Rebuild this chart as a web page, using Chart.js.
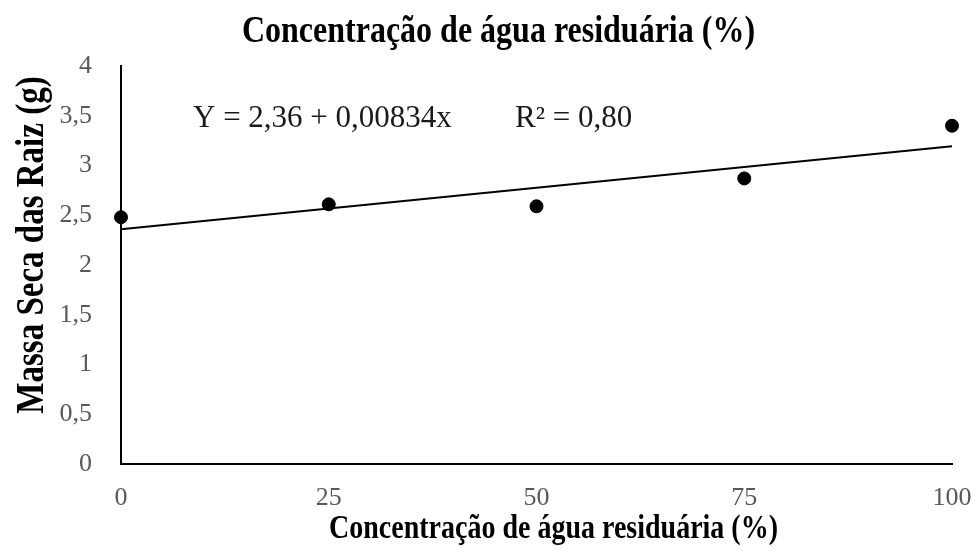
<!DOCTYPE html>
<html>
<head>
<meta charset="utf-8">
<script src="https://cdn.jsdelivr.net/npm/chart.js@4.4.1/dist/chart.umd.min.js"></script>
<style>
  html, body { margin: 0; padding: 0; background: #ffffff; }
  #wrap { width: 979px; height: 560px; position: relative; }
</style>
</head>
<body>
<div id="wrap"><canvas id="chart" width="979" height="560"></canvas></div>
<script>
// Concentration of wastewater (%) and root dry mass (g)
const concentrations = [0, 25, 50, 75, 100];
const rootDryMass = [2.48, 2.61, 2.59, 2.87, 3.40];

// Fitted regression: Y = 2,36 + 0,00834x
const intercept = 2.36;
const slope = 0.00834;
const fitX = [0, 100];

const xTickLabels = ['0', '25', '50', '75', '100'];
const yTickLabels = ['0', '0,5', '1', '1,5', '2', '2,5', '3', '3,5', '4'];

const titleText = 'Concentração de água residuária (%)';
const xTitleText = 'Concentração de água residuária (%)';
const yTitleText = 'Massa Seca das Raiz (g)';
const equationText = 'Y = 2,36 + 0,00834x';
const r2Text = 'R² = 0,80';

const serif = '"Liberation Serif", "Times New Roman", serif';

// Draws a line of text with a slight vertical stretch (tall heading style)
function tallText(ctx, text, x, y, font, angle, stretch) {
  ctx.save();
  ctx.font = font;
  ctx.fillStyle = '#000000';
  ctx.textAlign = 'center';
  ctx.textBaseline = 'alphabetic';
  ctx.translate(x, y);
  ctx.rotate(angle);
  ctx.scale(1, stretch);
  ctx.fillText(text, 0, 0);
  ctx.restore();
}

// Regression equation and R², written inside the plot area
const equationPlugin = {
  id: 'equationLabel',
  afterDatasetsDraw(chart) {
    const { ctx, chartArea } = chart;
    ctx.save();
    ctx.font = '31px ' + serif;
    ctx.fillStyle = '#1a1a1a';
    ctx.textBaseline = 'alphabetic';
    ctx.textAlign = 'left';
    const y = chartArea.top + 61;
    ctx.fillText(equationText, chartArea.left + 72, y);
    ctx.fillText(r2Text, chartArea.left + 394, y);
    ctx.restore();
  }
};

// Chart heading, horizontal axis title and vertical axis title
const headingsPlugin = {
  id: 'headings',
  afterDraw(chart) {
    const { ctx, chartArea } = chart;
    const midX = (chartArea.left + chartArea.right) / 2;
    const midY = (chartArea.top + chartArea.bottom) / 2;
    tallText(ctx, titleText, midX - 38, 42, 'bold 32px ' + serif, 0, 1.2);
    tallText(ctx, xTitleText, midX + 17, 538, 'bold 28px ' + serif, 0, 1.2);
    tallText(ctx, yTitleText, 43, midY - 20, 'bold 33px ' + serif, -Math.PI / 2, 1.2);
  }
};

new Chart(document.getElementById('chart'), {
  type: 'scatter',
  data: {
    datasets: [
      {
        label: 'Massa seca',
        data: concentrations.map((x, i) => ({ x: x, y: rootDryMass[i] })),
        backgroundColor: '#000000',
        borderColor: '#000000',
        pointRadius: 6.5,
        pointHoverRadius: 6.5,
        order: 1
      },
      {
        label: 'Regressão',
        type: 'line',
        data: fitX.map(x => ({ x: x, y: intercept + slope * x })),
        borderColor: '#000000',
        borderWidth: 2,
        pointRadius: 0,
        fill: false,
        order: 2
      }
    ]
  },
  options: {
    responsive: false,
    animation: false,
    clip: false,
    layout: { padding: { top: 66, left: 0, right: 27, bottom: 0 } },
    plugins: {
      legend: { display: false },
      tooltip: { enabled: false },
      title: { display: false }
    },
    scales: {
      x: {
        type: 'linear',
        min: 0,
        max: 100,
        afterFit(scale) {
          scale.height = 96;
          scale.paddingLeft = 0;
          scale.paddingRight = 0;
        },
        afterBuildTicks(scale) {
          scale.ticks = concentrations.map(v => ({ value: v }));
        },
        grid: { display: false, drawTicks: false },
        border: { display: true, color: '#000000', width: 2 },
        ticks: {
          padding: 19,
          color: '#595959',
          font: { family: serif, size: 26 },
          callback: (v, i) => xTickLabels[i]
        },
        title: { display: false }
      },
      y: {
        type: 'linear',
        min: 0,
        max: 4,
        afterFit(scale) {
          scale.width = 121;
          scale.paddingTop = 0;
          scale.paddingBottom = 0;
        },
        grid: { display: false, drawTicks: false },
        border: { display: true, color: '#000000', width: 2 },
        ticks: {
          stepSize: 0.5,
          padding: 29,
          color: '#595959',
          font: { family: serif, size: 26 },
          callback: (v, i) => yTickLabels[i]
        },
        title: { display: false }
      }
    }
  },
  plugins: [equationPlugin, headingsPlugin]
});
</script>
</body>
</html>
